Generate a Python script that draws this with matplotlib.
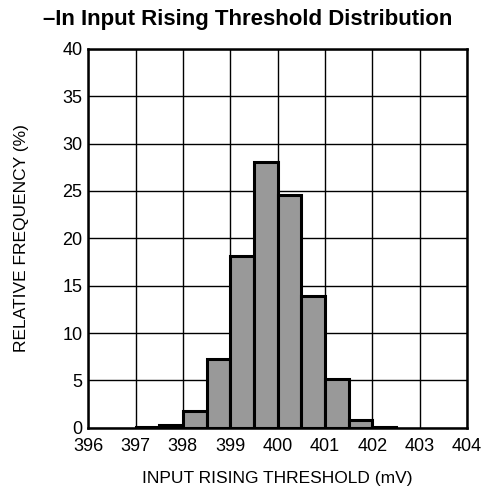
import matplotlib.pyplot as plt
import numpy as np

plt.rcParams['font.family'] = ['Liberation Sans', 'DejaVu Sans']

# bin left edges (mV) and relative frequency (%)
bin_left = [397.0, 397.5, 398.0, 398.5, 399.0, 399.5, 400.0, 400.5, 401.0, 401.5, 402.0]
freq = [0.05, 0.25, 1.8, 7.3, 18.1, 28.1, 24.6, 13.9, 5.1, 0.8, 0.12]
bin_width = 0.5

fig = plt.figure(figsize=(4.87, 4.94), dpi=100)
ax = fig.add_axes([0.181, 0.134, 0.778, 0.767])

ax.bar(bin_left, freq, width=bin_width, align='edge', color='#999999',
       edgecolor='black', linewidth=2.2, zorder=3)

ax.set_xlim(396, 404)
ax.set_ylim(0, 40)
ax.set_xticks(np.arange(396, 405, 1))
ax.set_yticks(np.arange(0, 41, 5))
ax.grid(True, color='black', linewidth=1.0, zorder=0)
ax.set_axisbelow(True)
ax.tick_params(length=0, labelsize=13)
ax.tick_params(axis='x', pad=7)
ax.tick_params(axis='y', pad=4)
for s in ax.spines.values():
    s.set_linewidth(1.8)
    s.set_zorder(4)

ax.set_xlabel('INPUT RISING THRESHOLD (mV)', fontsize=12.5, labelpad=12)
ax.set_ylabel('RELATIVE FREQUENCY (%)', fontsize=12.5, labelpad=24)
fig.suptitle('\u2013In Input Rising Threshold Distribution', fontsize=16,
             fontweight='bold', x=0.508, y=0.982)

fig.savefig('out.png', dpi=100)
